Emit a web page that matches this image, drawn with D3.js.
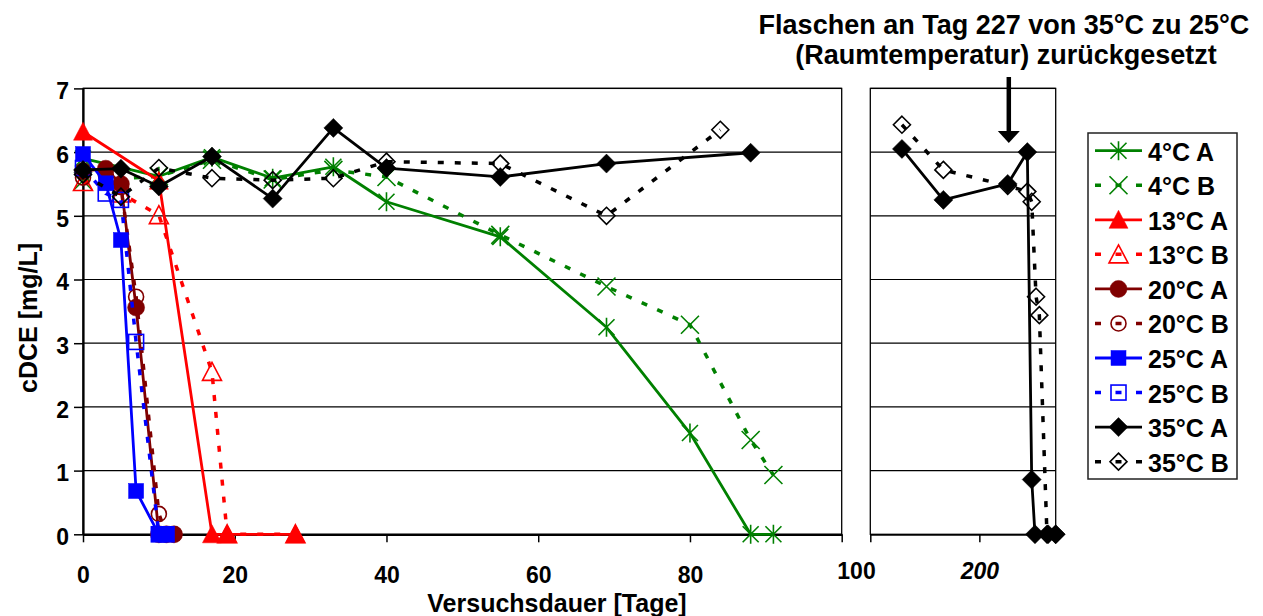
<!DOCTYPE html>
<html>
<head>
<meta charset="utf-8">
<script src="https://cdn.jsdelivr.net/npm/d3@7"></script>
<style>
  body { margin: 0; background: #fff; }
  svg { display: block; font-family: "Liberation Sans", Arial, sans-serif; font-weight: bold; }
</style>
</head>
<body>
<div id="chart"></div>
<script>
// --- data (days, cDCE in mg/L) ---
const seriesNames = ["4°C A", "4°C B", "13°C A", "13°C B", "20°C A", "20°C B", "25°C A", "25°C B", "35°C A", "35°C B"];

const day4 = [0, 10, 17, 25, 33, 40, 55, 69, 80, 88, 91];
const c4A = [5.9, 5.62, 5.92, 5.59, 5.77, 5.22, 4.67, 3.25, 1.59, 0, 0];
const c4B = [5.55, 5.62, 5.88, 5.57, 5.72, 5.61, 4.7, 3.89, 3.29, 1.48, 0.93];

const day13A = [0, 10, 17, 19, 28];
const c13A = [6.32, 5.55, 0, 0, 0];
const day13B = [0, 5, 10, 17, 19, 28];
const c13B = [5.53, 5.35, 5.01, 2.55, 0, 0];

const day20 = [0, 3, 5, 7, 10, 11, 12];
const c20A = [5.7, 5.74, 5.5, 3.56, 0, 0, 0];
const c20B = [5.6, 5.65, 5.45, 3.73, 0.32, 0, 0];

const day25 = [0, 3, 5, 7, 10, 11];
const c25A = [5.97, 5.51, 4.62, 0.68, 0, 0];
const c25B = [5.75, 5.35, 5.25, 3.02, 0, 0];

const day35A = [0, 5, 10, 17, 25, 33, 40, 55, 69, 88];
const c35A = [5.72, 5.74, 5.46, 5.93, 5.27, 6.38, 5.75, 5.61, 5.82, 5.99];
const day35B = [0, 5, 10, 17, 25, 33, 40, 55, 69, 84];
const c35B = [5.65, 5.3, 5.75, 5.59, 5.56, 5.59, 5.85, 5.82, 5.0, 6.35];

// right panel (after day 100)
const day35A_late = [129, 167, 226, 244, 248, 251, 263, 270];
const c35A_late = [6.05, 5.25, 5.5, 6.0, 0.86, 0, 0, 0];
const day35B_late = [129, 167, 226, 244, 248, 252, 255, 262, 270];
const c35B_late = [6.43, 5.72, 5.47, 5.38, 5.22, 3.73, 3.44, 0, 0];

const yTicks = [0, 1, 2, 3, 4, 5, 6, 7];
const xTicksLeft = [0, 20, 40, 60, 80, 100];
const xTicksRight = [100, 200];
const resetDay = 227;

// --- styles per series ---
const colors = ["#008000", "#008000", "#ff0000", "#ff0000", "#800000", "#800000", "#0000ff", "#0000ff", "#000000", "#000000"];
const markers = ["star", "x", "tri", "triO", "circ", "circO", "sq", "sqO", "dia", "diaO"];

const series = [
  [day4, c4A], [day4, c4B], [day13A, c13A], [day13B, c13B],
  [day20, c20A], [day20, c20B], [day25, c25A], [day25, c25B],
  [day35A, c35A], [day35B, c35B]
].map(([d, v], i) => ({
  name: seriesNames[i], color: colors[i], marker: markers[i], dashed: i % 2 === 1,
  pts: d.map((x, j) => ({ x, y: v[j] }))
}));

const lateSeries = [[day35A_late, c35A_late], [day35B_late, c35B_late]].map(([d, v], i) => ({
  color: "#000", marker: markers[8 + i], dashed: i === 1,
  pts: d.map((x, j) => ({ x, y: v[j] }))
}));

const W = 1263, H = 616;
const svg = d3.select("#chart").append("svg").attr("width", W).attr("height", H);
svg.append("rect").attr("width", W).attr("height", H).attr("fill", "#fff");

const y = d3.scaleLinear().domain([0, 7]).range([534.3, 88.4]);
const xL = d3.scaleLinear().domain([0, 100]).range([83, 841.7]);
const xR = d3.scaleLinear().domain([100, 270]).range([870.3, 1055.7]);

// grid + frames
function panel(x) {
  const g = svg.append("g");
  const [x0, x1] = x.range();
  g.selectAll("line.grid").data(yTicks.slice(1)).enter().append("line")
    .attr("x1", x0).attr("x2", x1)
    .attr("y1", d => y(d)).attr("y2", d => y(d))
    .attr("stroke", "#000").attr("stroke-width", 1.2);
  g.append("rect").attr("x", x0).attr("y", y(7)).attr("width", x1 - x0).attr("height", y(0) - y(7))
    .attr("fill", "none").attr("stroke", "#000").attr("stroke-width", 1.3);
}
panel(xL);
panel(xR);

// axes
const yAxis = svg.append("g").attr("transform", `translate(${xL(0)},0)`)
  .call(d3.axisLeft(y).tickValues(yTicks).tickSize(9).tickSizeOuter(0).tickFormat(d3.format("d")));
yAxis.select(".domain").attr("stroke-width", 2.2);
yAxis.selectAll(".tick line").attr("stroke-width", 1.5);
yAxis.selectAll("text").attr("x", -14).attr("y", 3).attr("font-size", 23).attr("font-family", null).attr("fill", "#000");

const xAxisL = svg.append("g").attr("transform", `translate(0,${y(0)})`)
  .call(d3.axisBottom(xL).tickValues(xTicksLeft).tickSize(8).tickSizeOuter(0));
xAxisL.select(".domain").attr("stroke-width", 2.2);
xAxisL.selectAll(".tick line").attr("stroke-width", 1.5);
xAxisL.selectAll("text").attr("y", 32.5).attr("font-size", 23).attr("font-family", null).attr("fill", "#000")
  .filter(d => d === 100).attr("x", (xR(100) - xL(100)) / 2).attr("y", 28);

const xAxisR = svg.append("g").attr("transform", `translate(0,${y(0)})`)
  .call(d3.axisBottom(xR).tickValues(xTicksRight).tickSize(8).tickSizeOuter(0)
    .tickFormat(d => d === 100 ? "" : d));
xAxisR.select(".domain").attr("stroke-width", 1.8);
xAxisR.selectAll(".tick line").attr("stroke-width", 1.5);
xAxisR.selectAll("text").attr("y", 28).attr("font-size", 23).attr("font-family", null)
  .attr("font-style", "italic").attr("fill", "#000");

// markers
function drawMarker(g, type, color) {
  const open = type.endsWith("O");
  const base = open ? type.slice(0, -1) : type;
  let m;
  if (base === "circ") m = g.append("circle").attr("r", open ? 7.5 : 8.5);
  else if (base === "sq") m = g.append("rect").attr("x", -7.5).attr("y", -7.5).attr("width", 15).attr("height", 15);
  else if (base === "tri") m = g.append("path").attr("d", "M0,-9.5L9.5,8.5L-9.5,8.5Z");
  else if (base === "dia") m = g.append("path").attr("d", open ? "M0,-8.5L8.5,0L0,8.5L-8.5,0Z" : "M0,-9.5L9.5,0L0,9.5L-9.5,0Z");
  else if (base === "star") m = g.append("path").attr("d", "M0,-9.5V9.5M-8,-8L8,8M-8,8L8,-8");
  else if (base === "x") m = g.append("path").attr("d", "M-9,-9L9,9M-9,9L9,-9");
  const lineOnly = base === "star" || base === "x";
  if (open || lineOnly) m.attr("fill", "none").attr("stroke", color).attr("stroke-width", 1.6);
  else m.attr("fill", color).attr("stroke", color).attr("stroke-width", 0.5);
}

const dash = "6,11";
function drawSeries(s, x) {
  const line = d3.line().x(d => x(d.x)).y(d => y(d.y));
  const g = svg.append("g");
  g.append("path").datum(s.pts).attr("d", line)
    .attr("fill", "none").attr("stroke", s.color)
    .attr("stroke-width", s.dashed ? 3.5 : 2.8)
    .attr("stroke-dasharray", s.dashed ? dash : null)
    .attr("stroke-linejoin", "round");
  g.selectAll("g.m").data(s.pts).enter().append("g")
    .attr("transform", d => `translate(${x(d.x)},${y(d.y)})`)
    .each(function () { drawMarker(d3.select(this), s.marker, s.color); });
}
series.forEach(s => drawSeries(s, xL));
lateSeries.forEach(s => drawSeries(s, xR));

// axis titles
svg.append("text").attr("transform", "translate(37,318) rotate(-90)")
  .attr("text-anchor", "middle").attr("font-size", 25).text("cDCE [mg/L]");
svg.append("text").attr("x", 557).attr("y", 612)
  .attr("text-anchor", "middle").attr("font-size", 25).text("Versuchsdauer [Tage]");

// annotation
svg.append("text").attr("x", 1004).attr("y", 33.5).attr("text-anchor", "middle").attr("font-size", 27)
  .text("Flaschen an Tag 227 von 35°C zu 25°C");
svg.append("text").attr("x", 1006).attr("y", 63.5).attr("text-anchor", "middle").attr("font-size", 27)
  .text("(Raumtemperatur) zurückgesetzt");
const ax = xR(resetDay);
svg.append("line").attr("x1", ax).attr("x2", ax).attr("y1", 77).attr("y2", 133)
  .attr("stroke", "#000").attr("stroke-width", 4.5);
svg.append("path").attr("d", `M${ax - 11},131L${ax + 11},131L${ax},143Z`).attr("fill", "#000");

// legend
const lg = svg.append("g");
lg.append("rect").attr("x", 1088).attr("y", 133).attr("width", 149).attr("height", 346)
  .attr("fill", "#fff").attr("stroke", "#222").attr("stroke-width", 1.5);
series.forEach((s, i) => {
  const ly = 150.7 + i * 34.55;
  lg.append("line").attr("x1", 1095).attr("x2", 1142).attr("y1", ly).attr("y2", ly)
    .attr("stroke", s.color).attr("stroke-width", s.dashed ? 3.5 : 2.8)
    .attr("stroke-dasharray", s.dashed ? "6,14.5" : null);
  const mg = lg.append("g").attr("transform", `translate(1118.5,${ly})`);
  drawMarker(mg, s.marker, s.color);
  lg.append("text").attr("x", 1148).attr("y", ly + 10).attr("font-size", 25).text(s.name);
});
</script>
</body>
</html>
